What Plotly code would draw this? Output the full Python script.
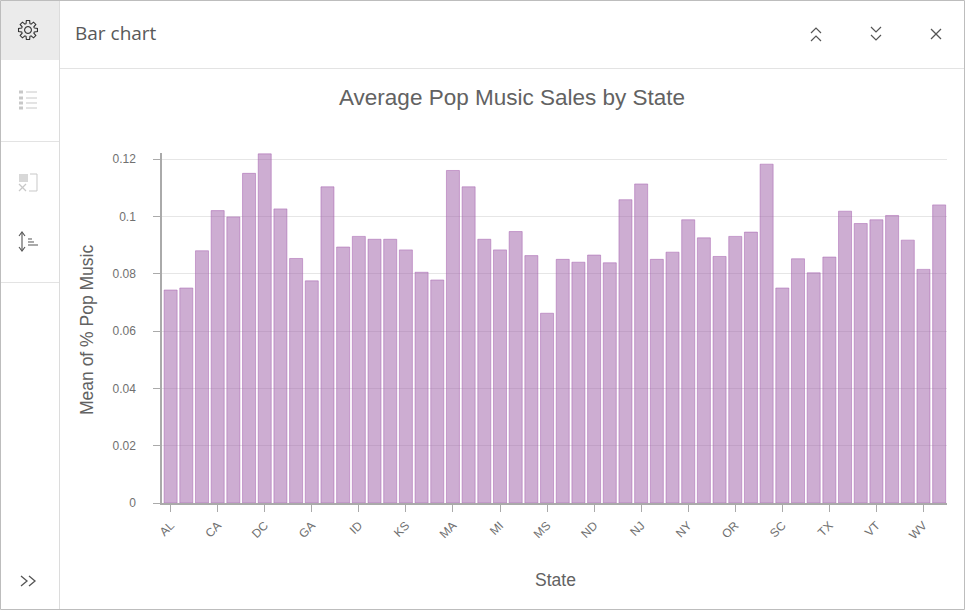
import math
import plotly.graph_objects as go

W, H = 965, 610

# one bar per state
states = ['AL', 'AR', 'AZ', 'CA', 'CO', 'CT', 'DC', 'DE', 'FL', 'GA',
          'HI', 'IA', 'ID', 'IL', 'IN', 'KS', 'KY', 'LA', 'MA', 'MD',
          'ME', 'MI', 'MN', 'MO', 'MS', 'MT', 'NC', 'ND', 'NE', 'NH',
          'NJ', 'NM', 'NV', 'NY', 'OH', 'OK', 'OR', 'PA', 'RI', 'SC',
          'SD', 'TN', 'TX', 'UT', 'VA', 'VT', 'WA', 'WI', 'WV', 'WY']
pop_sales = [0.0743, 0.0750, 0.0880, 0.1020, 0.0998, 0.1150, 0.1218, 0.1026, 0.0853, 0.0775,
             0.1103, 0.0893, 0.0930, 0.0920, 0.0920, 0.0883, 0.0805, 0.0778, 0.1160, 0.1103,
             0.0920, 0.0883, 0.0947, 0.0863, 0.0662, 0.0850, 0.0840, 0.0865, 0.0838, 0.1058,
             0.1113, 0.0850, 0.0875, 0.0988, 0.0925, 0.0860, 0.0930, 0.0945, 0.1182, 0.0750,
             0.0852, 0.0803, 0.0858, 0.1018, 0.0975, 0.0988, 0.1003, 0.0917, 0.0815, 0.1040]
x_ticks = ['AL', 'CA', 'DC', 'GA', 'ID', 'KS', 'MA', 'MI', 'MS', 'ND', 'NJ', 'NY', 'OR', 'SC', 'TX', 'VT', 'WV']
y_ticks = [0, 0.02, 0.04, 0.06, 0.08, 0.1, 0.12]
y_labels = ['0', '0.02', '0.04', '0.06', '0.08', '0.1', '0.12']

TEXT = '#626262'
ICON = '#555555'
ICON_OFF = '#c8c8c8'
BORDER = '#e3e3e3'


def px(x):
    return x / W


def py(y):
    return 1 - y / H


def rect(x0, y0, x1, y1, fill=None, line=None, width=1):
    return dict(type='rect', xref='paper', yref='paper', layer='below',
                x0=px(x0), y0=py(y0), x1=px(x1), y1=py(y1),
                fillcolor=fill or 'rgba(0,0,0,0)',
                line=dict(color=line or 'rgba(0,0,0,0)', width=width if line else 0))


def stroke(points, color=ICON, width=1.2):
    # polyline given in screen pixels
    d = 'M ' + ' L '.join(f'{px(x):.5f},{py(y):.5f}' for x, y in points)
    return dict(type='path', xref='paper', yref='paper', path=d, line=dict(color=color, width=width))


def gear(cx, cy):
    pts = []
    for i in range(8):
        a = i * math.pi / 4
        for off, r in [(-0.30, 6.6), (-0.17, 9.6), (0.17, 9.6), (0.30, 6.6)]:
            pts.append((cx + r * math.cos(a + off), cy + r * math.sin(a + off)))
    pts.append(pts[0])
    ring = [(cx + 3.4 * math.cos(t * math.pi / 10), cy + 3.4 * math.sin(t * math.pi / 10)) for t in range(21)]
    return [stroke(pts, '#333333', 1.1), stroke(ring, '#333333', 1.1)]


shapes = [
    # window frame, sidebar and header
    rect(0.5, 0.5, 964.5, 609.5, line='#bdbdbd', width=1),
    rect(1, 1, 59, 60, fill='#ebebeb'),
    rect(59, 1, 60, 609, fill='#dcdcdc'),
    rect(60, 68, 964, 69, fill=BORDER),
    rect(1, 141, 59, 142, fill=BORDER),
    rect(1, 282, 59, 283, fill=BORDER),
]
shapes += gear(28, 30)

# list icon
for y in (92, 98, 103, 108):
    shapes.append(rect(19, y - 1.5, 23, y + 1.5, fill=ICON_OFF))
    shapes.append(stroke([(26, y), (37, y)], ICON_OFF, 1))

# axis swap icon
shapes.append(rect(19, 174, 28, 182, fill='#d8d8d8'))
shapes.append(stroke([(19, 191), (26, 184)], ICON_OFF, 1.2))
shapes.append(stroke([(19, 184), (26, 191)], ICON_OFF, 1.2))
shapes.append(stroke([(30, 174), (37, 174), (37, 191), (29, 191)], ICON_OFF, 1))

# sort icon
shapes.append(stroke([(22, 233), (22, 250)], ICON, 1.1))
shapes.append(stroke([(19, 236), (22, 232), (25, 236)], ICON, 1.1))
shapes.append(stroke([(19, 247), (22, 251), (25, 247)], ICON, 1.1))
for y, x1 in ((239, 32), (242, 34), (245, 38)):
    shapes.append(stroke([(28, y), (x1, y)], ICON, 1))

# header buttons
shapes.append(stroke([(811, 33), (816, 28), (821, 33)]))
shapes.append(stroke([(811, 41), (816, 36), (821, 41)]))
shapes.append(stroke([(871, 27), (876, 32), (881, 27)]))
shapes.append(stroke([(871, 35), (876, 40), (881, 35)]))
shapes.append(stroke([(931, 29), (941, 39)]))
shapes.append(stroke([(941, 29), (931, 39)]))

# expand button
shapes.append(stroke([(21, 576), (27, 581), (21, 586)], ICON, 1.3))
shapes.append(stroke([(29, 576), (35, 581), (29, 586)], ICON, 1.3))

annotations = [
    dict(text='Bar chart', x=px(73), y=py(33), xanchor='left', yanchor='middle',
         font=dict(family='Open Sans', size=19, color='#595959')),
    dict(text='Average Pop Music Sales by State', x=px(512), y=py(97.5), xanchor='center', yanchor='middle',
         font=dict(family='Liberation Sans', size=22.5, color=TEXT)),
    dict(text='Mean of % Pop Music', x=px(87), y=py(330), xanchor='center', yanchor='middle', textangle=-90,
         font=dict(family='Liberation Sans', size=17.5, color=TEXT)),
    dict(text='State', x=px(555), y=py(580), xanchor='center', yanchor='middle',
         font=dict(family='Liberation Sans', size=17.5, color=TEXT)),
]
for a in annotations:
    a.update(xref='paper', yref='paper', showarrow=False)

bars = go.Bar(x=states, y=pop_sales, width=0.83,
              marker=dict(color='rgba(155,92,165,0.5)', line=dict(color='rgba(165,95,175,0.5)', width=1)))

layout = go.Layout(
    width=W, height=H, margin=dict(l=0, r=0, t=0, b=0, autoexpand=False), autosize=False,
    paper_bgcolor='white', plot_bgcolor='white', showlegend=False, template='none',
    shapes=shapes, annotations=annotations,
    font=dict(family='Liberation Sans', color='#707070', size=12),
    xaxis=dict(domain=[px(162), px(947)], type='category', range=[-0.55, 49.5], automargin=False,
               tickmode='array', tickvals=x_ticks, ticktext=x_ticks, tickangle=-45,
               ticks='outside', ticklen=7, tickcolor='#aaaaaa', tickwidth=1, ticklabelstandoff=2,
               showline=True, linecolor='#aaaaaa', linewidth=1.5, showgrid=False,
               tickfont=dict(size=12, color='#707070')),
    yaxis=dict(domain=[py(503), py(153)], range=[0, 0.1221], automargin=False,
               tickmode='array', tickvals=y_ticks, ticktext=y_labels,
               ticks='outside', ticklen=7, tickcolor='#aaaaaa', tickwidth=1, ticklabelstandoff=15,
               showline=True, linecolor='#aaaaaa', linewidth=1.5,
               showgrid=True, gridcolor='#e6e6e6', gridwidth=1, zeroline=False,
               tickfont=dict(size=12, color='#707070')),
)

fig = go.Figure(data=[bars], layout=layout)
fig.write_html('out.html', post_script="document.body.style.margin='0';", config={'displayModeBar': False})
